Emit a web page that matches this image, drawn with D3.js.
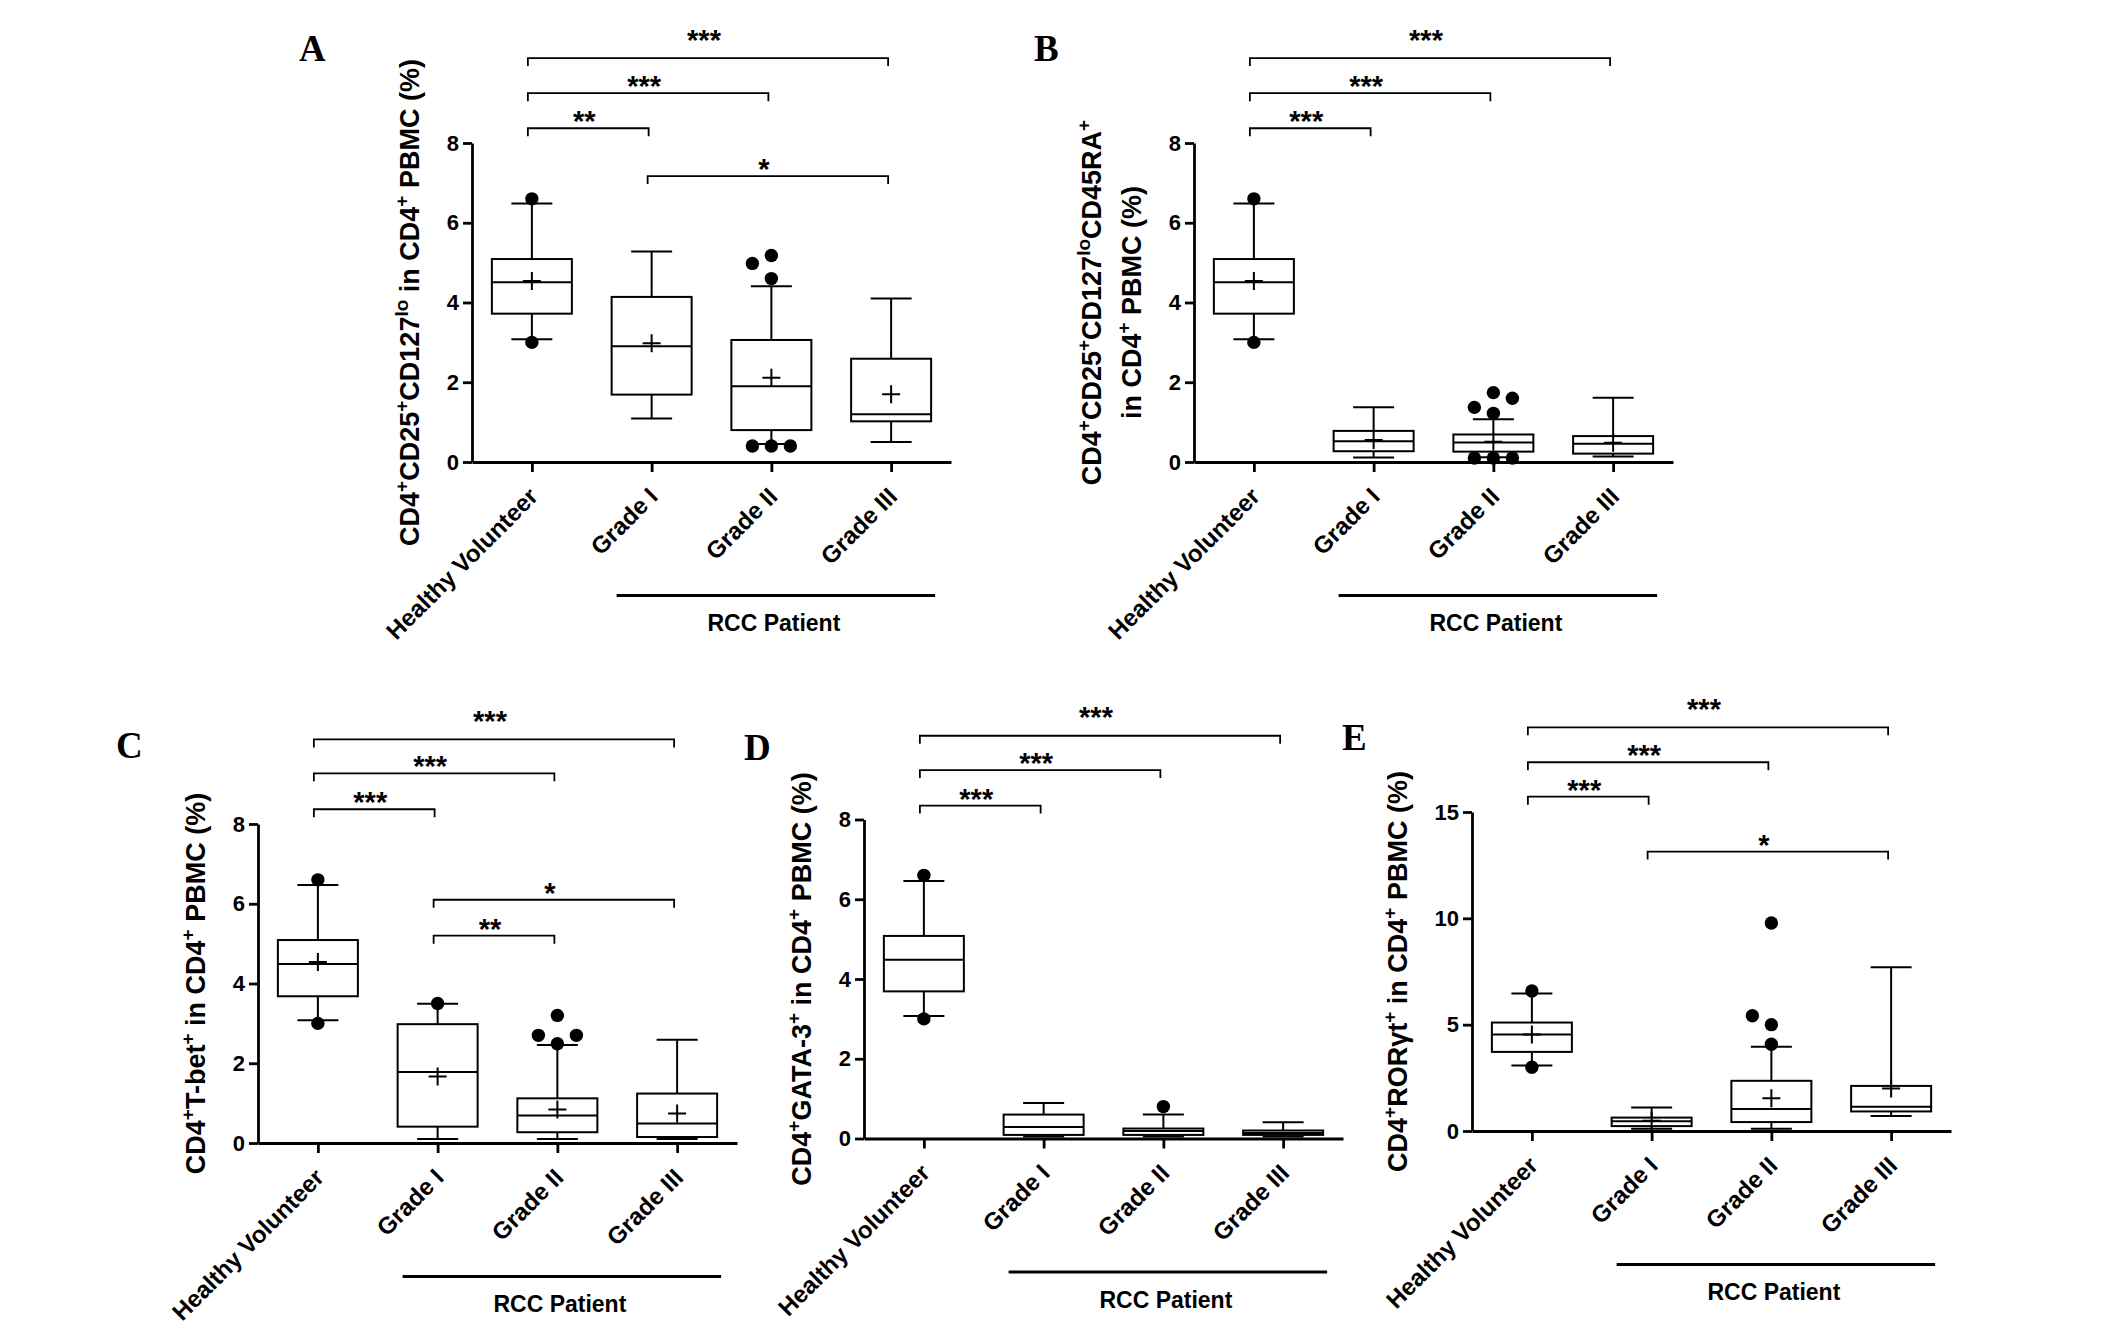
<!DOCTYPE html>
<html><head><meta charset="utf-8">
<script src="https://cdn.jsdelivr.net/npm/d3@7"></script>
<style>html,body{margin:0;padding:0;background:#fff;} svg{display:block;} text{white-space:pre;}</style>
</head><body>
<svg id="chart" width="2126" height="1327"></svg>
<script>
// ---------------- DATA ----------------
const categories = ["Healthy Volunteer", "Grade I", "Grade II", "Grade III"];
const groupLabel = "RCC Patient";
const yTicks8 = [0, 2, 4, 6, 8];
const yTicks15 = [0, 5, 10, 15];

// Panel A: CD4+CD25+CD127lo
const aWhiskerLow  = [3.08, 1.09, 0.45, 0.50];
const aQ1          = [3.72, 1.69, 0.80, 1.02];
const aMedian      = [4.51, 2.90, 1.90, 1.20];
const aQ3          = [5.09, 4.14, 3.06, 2.59];
const aWhiskerHigh = [6.48, 5.28, 4.41, 4.10];
const aMean        = [4.54, 2.98, 2.11, 1.70];
const aOutliers    = [[6.6, 3.0], [], [5.18, 4.98, 4.6, 0.4, 0.4, 0.4], []];
const aBrackets    = [
  {from: 0, to: 3, label: "***", level: 10.13},
  {from: 0, to: 2, label: "***", level: 9.25},
  {from: 0, to: 1, label: "**",  level: 8.37},
  {from: 1, to: 3, label: "*",   level: 7.17}
];

// Panel B: CD4+CD25+CD127loCD45RA+
const bWhiskerLow  = [3.08, 0.11, 0.12, 0.14];
const bQ1          = [3.72, 0.27, 0.26, 0.21];
const bMedian      = [4.51, 0.52, 0.49, 0.46];
const bQ3          = [5.09, 0.78, 0.69, 0.65];
const bWhiskerHigh = [6.48, 1.37, 1.07, 1.61];
const bMean        = [4.54, 0.55, 0.51, 0.48];
const bOutliers    = [[6.6, 3.0], [], [1.74, 1.37, 1.60, 1.22, 0.1, 0.1, 0.1], []];
const bBrackets    = [
  {from: 0, to: 3, label: "***", level: 10.13},
  {from: 0, to: 2, label: "***", level: 9.25},
  {from: 0, to: 1, label: "***", level: 8.37}
];

// Panel C: CD4+T-bet+
const cWhiskerLow  = [3.08, 0.10, 0.10, 0.10];
const cQ1          = [3.68, 0.41, 0.27, 0.15];
const cMedian      = [4.49, 1.78, 0.69, 0.49];
const cQ3          = [5.09, 2.98, 1.12, 1.24];
const cWhiskerHigh = [6.47, 3.49, 2.46, 2.59];
const cMean        = [4.54, 1.67, 0.84, 0.74];
const cOutliers    = [[6.6, 3.0], [3.5], [3.2, 2.49, 2.7, 2.7], []];
const cBrackets    = [
  {from: 0, to: 3, label: "***", level: 10.12},
  {from: 0, to: 2, label: "***", level: 9.27},
  {from: 0, to: 1, label: "***", level: 8.37},
  {from: 1, to: 3, label: "*",   level: 6.10},
  {from: 1, to: 2, label: "**",  level: 5.20}
];

// Panel D: CD4+GATA-3+
const dWhiskerLow  = [3.07, 0.05, 0.05, 0.05];
const dQ1          = [3.69, 0.09, 0.09, 0.09];
const dMedian      = [4.48, 0.29, 0.19, 0.14];
const dQ3          = [5.08, 0.60, 0.25, 0.20];
const dWhiskerHigh = [6.46, 0.89, 0.60, 0.41];
const dMean        = null;
const dOutliers    = [[6.6, 3.0], [], [0.8], []];
const dBrackets    = [
  {from: 0, to: 3, label: "***", level: 10.10},
  {from: 0, to: 2, label: "***", level: 9.24},
  {from: 0, to: 1, label: "***", level: 8.35}
];

// Panel E: CD4+RORγt+
const eWhiskerLow  = [3.08, 0.10, 0.10, 0.70];
const eQ1          = [3.72, 0.23, 0.42, 0.92];
const eMedian      = [4.54, 0.46, 1.04, 1.14];
const eQ3          = [5.10, 0.63, 2.36, 2.12];
const eWhiskerHigh = [6.46, 1.11, 3.96, 7.70];
const eMean        = [4.54, 0.48, 1.54, 2.00];
const eOutliers    = [[6.58, 3.0], [], [9.78, 5.0, 5.42, 4.08], []];
const eBrackets    = [
  {from: 0, to: 3, label: "***", level: 18.98},
  {from: 0, to: 2, label: "***", level: 17.34},
  {from: 0, to: 1, label: "***", level: 15.72},
  {from: 1, to: 3, label: "*",   level: 13.14}
];

// ---------------- PANEL TABLE ----------------
const panels = [
  {letter: "A", title: ["CD4^{+}CD25^{+}CD127^{lo} in CD4^{+} PBMC (%)"], yMax: 8, yTicks: yTicks8,
   wl: aWhiskerLow, q1: aQ1, med: aMedian, q3: aQ3, wh: aWhiskerHigh, mean: aMean, out: aOutliers, br: aBrackets,
   layout: {ox: 472, oy: 462, lx: 299, ly: 61}},
  {letter: "B", title: ["CD4^{+}CD25^{+}CD127^{lo}CD45RA^{+}", "in CD4^{+} PBMC (%)"], yMax: 8, yTicks: yTicks8,
   wl: bWhiskerLow, q1: bQ1, med: bMedian, q3: bQ3, wh: bWhiskerHigh, mean: bMean, out: bOutliers, br: bBrackets,
   layout: {ox: 1194, oy: 462, lx: 1034, ly: 61}},
  {letter: "C", title: ["CD4^{+}T-bet^{+} in CD4^{+} PBMC (%)"], yMax: 8, yTicks: yTicks8,
   wl: cWhiskerLow, q1: cQ1, med: cMedian, q3: cQ3, wh: cWhiskerHigh, mean: cMean, out: cOutliers, br: cBrackets,
   layout: {ox: 258, oy: 1143, lx: 116, ly: 758}},
  {letter: "D", title: ["CD4^{+}GATA-3^{+} in CD4^{+} PBMC (%)"], yMax: 8, yTicks: yTicks8,
   wl: dWhiskerLow, q1: dQ1, med: dMedian, q3: dQ3, wh: dWhiskerHigh, mean: dMean, out: dOutliers, br: dBrackets,
   layout: {ox: 864, oy: 1138.5, lx: 744, ly: 760}},
  {letter: "E", title: ["CD4^{+}ROR\u03B3t^{+} in CD4^{+} PBMC (%)"], yMax: 15, yTicks: yTicks15,
   wl: eWhiskerLow, q1: eQ1, med: eMedian, q3: eQ3, wh: eWhiskerHigh, mean: eMean, out: eOutliers, br: eBrackets,
   layout: {ox: 1472, oy: 1131, lx: 1342, ly: 750}}
];

// ---------------- DRAW ----------------
const W = 479, H = 319;
const FONT = "'Liberation Sans', Arial, Helvetica, sans-serif";
const SERIF = "'Liberation Serif', 'Times New Roman', Times, serif";
const svg = d3.select("#chart");
svg.append("rect").attr("width", 2126).attr("height", 1327).attr("fill", "#fff");

function addRich(textSel, str, supSize, supRaise) {
  const parts = str.split(/(\^\{[^}]*\})/).filter(s => s.length);
  let raised = false;
  parts.forEach(p => {
    const m = p.match(/^\^\{([^}]*)\}$/);
    if (m) {
      textSel.append("tspan").attr("font-size", supSize).attr("dy", raised ? 0 : -supRaise).text(m[1]);
      raised = true;
    } else {
      textSel.append("tspan").attr("dy", raised ? supRaise : 0).text(p);
      raised = false;
    }
  });
}

const boxW = 80, capW = 41, dotR = 6.7, jitter = 19, collide = 16;

panels.forEach(p => {
  const L = p.layout;
  const g = svg.append("g").attr("transform", `translate(${L.ox},${L.oy - H})`);
  const x = d3.scalePoint().domain(categories).range([0, W]).padding(0.5);
  const y = d3.scaleLinear().domain([0, p.yMax]).range([H, 0]);

  // letter
  svg.append("text").attr("x", L.lx).attr("y", L.ly)
    .attr("font-family", SERIF).attr("font-weight", "bold").attr("font-size", 37)
    .attr("fill", "#000").text(p.letter);

  const stats = categories.map((c, i) => ({
    c, cx: x(c), wl: p.wl[i], q1: p.q1[i], med: p.med[i], q3: p.q3[i], wh: p.wh[i],
    mean: p.mean ? p.mean[i] : null, out: p.out[i]
  }));

  const boxes = g.selectAll("g.box").data(stats).join("g").attr("class", "box")
    .attr("stroke", "#000").attr("stroke-width", 2).attr("fill", "none");
  // whiskers
  boxes.append("line").attr("x1", d => d.cx).attr("x2", d => d.cx)
    .attr("y1", d => y(d.q3)).attr("y2", d => y(d.wh));
  boxes.append("line").attr("x1", d => d.cx).attr("x2", d => d.cx)
    .attr("y1", d => y(d.q1)).attr("y2", d => y(d.wl));
  boxes.append("line").attr("x1", d => d.cx - capW / 2).attr("x2", d => d.cx + capW / 2)
    .attr("y1", d => y(d.wh)).attr("y2", d => y(d.wh));
  boxes.append("line").attr("x1", d => d.cx - capW / 2).attr("x2", d => d.cx + capW / 2)
    .attr("y1", d => y(d.wl)).attr("y2", d => y(d.wl));
  // box
  boxes.append("rect").attr("x", d => d.cx - boxW / 2).attr("width", boxW)
    .attr("y", d => y(d.q3)).attr("height", d => y(d.q1) - y(d.q3)).attr("fill", "#fff");
  // median
  boxes.append("line").attr("x1", d => d.cx - boxW / 2).attr("x2", d => d.cx + boxW / 2)
    .attr("y1", d => y(d.med)).attr("y2", d => y(d.med));
  // mean +
  boxes.filter(d => d.mean != null).append("path")
    .attr("d", d => `M${d.cx - 9},${y(d.mean)}H${d.cx + 9}M${d.cx},${y(d.mean) - 9}V${y(d.mean) + 9}`);

  // outlier dots with simple collision-avoiding placement
  stats.forEach(d => {
    const placed = [];
    d.out.forEach(v => {
      const py = y(v);
      const cands = [0, -jitter, jitter, -2 * jitter, 2 * jitter];
      let off = 0;
      for (const o of cands) {
        if (placed.every(q => Math.hypot(q.o - o, q.py - py) >= collide)) { off = o; break; }
      }
      placed.push({o: off, py, v});
    });
    g.selectAll(null).data(placed).join("circle")
      .attr("cx", q => d.cx + q.o).attr("cy", q => y(q.v)).attr("r", dotR).attr("fill", "#000");
  });

  // y axis
  const gy = g.append("g")
    .call(d3.axisLeft(y).tickValues(p.yTicks).tickSize(9).tickSizeOuter(0).tickPadding(4).tickFormat(d3.format("d")));
  gy.select(".domain").attr("stroke", "#000").attr("stroke-width", 2.8);
  gy.selectAll(".tick line").attr("stroke", "#000").attr("stroke-width", 2.8);
  gy.selectAll(".tick text").attr("font-family", FONT).attr("font-weight", "bold")
    .attr("font-size", 22).attr("fill", "#000");

  // x axis
  const gx = g.append("g").attr("transform", `translate(0,${H})`)
    .call(d3.axisBottom(x).tickSize(10).tickSizeOuter(0));
  gx.select(".domain").attr("stroke", "#000").attr("stroke-width", 2.8);
  gx.selectAll(".tick line").attr("stroke", "#000").attr("stroke-width", 2.8);
  gx.selectAll(".tick text").attr("font-family", FONT).attr("font-weight", "bold")
    .attr("font-size", 24).attr("fill", "#000")
    .attr("y", 0).attr("dy", 0).attr("text-anchor", "end")
    .attr("transform", "translate(7,36) rotate(-45)");

  // y title
  let maxW = 0;
  gy.selectAll(".tick text").each(function () { maxW = Math.max(maxW, this.getComputedTextLength()); });
  const tx = -(9 + 4 + maxW + 37);
  const n = p.title.length;
  p.title.forEach((line, k) => {
    const cx = tx - (n - 1 - k) * 40;
    const t = g.append("text")
      .attr("transform", `translate(${cx + 0.35 * 27},${H / 2}) rotate(-90)`)
      .attr("text-anchor", "middle").attr("font-family", FONT).attr("font-weight", "bold")
      .attr("font-size", 27).attr("fill", "#000");
    addRich(t, line, 19, 11);
  });

  // significance brackets
  const topLevel = d3.max(p.br, b => b.level);
  p.br.forEach(b => {
    const x1 = x(categories[b.from]) - 4, x2 = x(categories[b.to]) - 3;
    const yy = y(b.level);
    g.append("path").attr("d", `M${x1},${yy + 8}V${yy}H${x2}V${yy + 8}`)
      .attr("fill", "none").attr("stroke", "#000").attr("stroke-width", 1.8);
    const gap = b.level === topLevel ? 24.5 : 13;
    g.append("text").attr("x", (x1 + x2) / 2 - 4).attr("y", yy - gap + 16)
      .attr("text-anchor", "middle").attr("font-family", FONT).attr("font-weight", "bold")
      .attr("font-size", 29).attr("fill", "#000").text(b.label);
  });

  // group bar "RCC Patient"
  const gx1 = x(categories[1]) - 35, gx2 = x(categories[3]) + 44;
  g.append("line").attr("x1", gx1).attr("x2", gx2).attr("y1", H + 133.5).attr("y2", H + 133.5)
    .attr("stroke", "#000").attr("stroke-width", 2.8);
  g.append("text").attr("x", (gx1 + gx2) / 2 - 2).attr("y", H + 161 + 8.3)
    .attr("text-anchor", "middle").attr("font-family", FONT).attr("font-weight", "bold")
    .attr("font-size", 23).attr("fill", "#000").text(groupLabel);
});
</script>
</body></html>
